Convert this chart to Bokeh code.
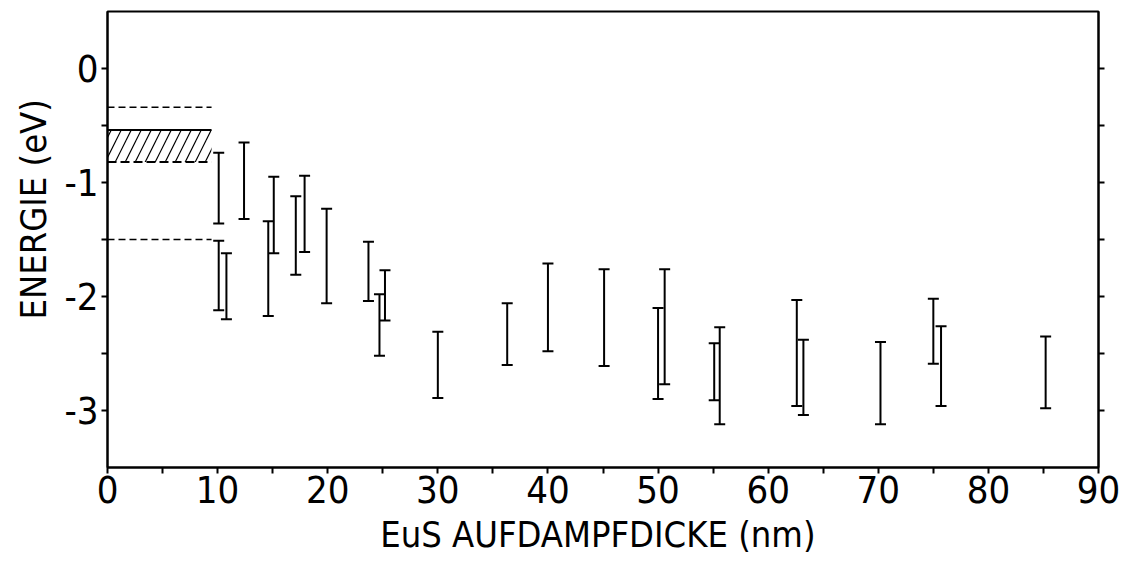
from bokeh.plotting import figure
from bokeh.models import (Whisker, TeeHead, ColumnDataSource, FixedTicker,
                          LinearAxis, Range1d, Title)
from bokeh.embed import file_html
from bokeh.resources import INLINE

# ---- data ----
thickness = [10.1, 10.1, 10.8, 12.4, 14.6, 15.1, 17.1, 17.9, 19.9, 23.7,
             24.7, 25.2, 30.0, 36.3, 40.0, 45.1, 50.0, 50.6, 55.1, 55.6,
             62.6, 63.2, 70.2, 75.0, 75.7, 85.2]
energy_upper = [-0.74, -1.51, -1.62, -0.65, -1.34, -0.95, -1.12, -0.94, -1.23, -1.52,
                -1.98, -1.77, -2.31, -2.06, -1.71, -1.76, -2.10, -1.76, -2.41, -2.27,
                -2.03, -2.38, -2.40, -2.02, -2.26, -2.35]
energy_lower = [-1.36, -2.12, -2.20, -1.32, -2.17, -1.62, -1.81, -1.61, -2.06, -2.04,
                -2.52, -2.21, -2.89, -2.60, -2.48, -2.61, -2.90, -2.77, -2.91, -3.12,
                -2.96, -3.04, -3.12, -2.59, -2.96, -2.98]

band_x = [0.0, 9.45]          # extent of the bulk reference band
band_top = -0.54              # hatched band upper edge
band_bottom = -0.82           # hatched band lower edge
dashed_levels = [-0.34, -1.50]

x_ticks = [0, 10, 20, 30, 40, 50, 60, 70, 80, 90]
x_minor = [5, 15, 25, 35, 45, 55, 65, 75, 85]
y_ticks = [0, -1, -2, -3]
y_tick_labels = ["0", "-1", "-2", "-3"]
y_minor = [-0.5, -1.5, -2.5]
y_right_ticks = [0, -0.5, -1, -1.5, -2, -2.5, -3]

x_title = "EuS  AUFDAMPFDICKE (nm)"
y_title = "ENERGIE (eV)"

FONT = "DejaVu Sans Condensed, Liberation Sans, sans-serif"

p = figure(width=1132, height=568, output_backend="svg", toolbar_location=None,
           x_range=Range1d(0, 90), y_range=Range1d(-3.5, 0.5),
           min_border_left=107, min_border_right=34, min_border_top=11,
           min_border_bottom=101)
p.background_fill_color = "white"
p.border_fill_color = "white"
p.grid.visible = False
p.outline_line_color = "black"
p.outline_line_width = 2
p.outline_line_alpha = 1

# axes styling
for ax in (p.xaxis[0], p.yaxis[0]):
    ax.axis_line_width = 2
    ax.major_tick_line_width = 2
    ax.minor_tick_line_width = 2
    ax.major_tick_in = 0
    ax.minor_tick_in = 0
    ax.major_tick_out = 6
    ax.minor_tick_out = 6
    ax.major_label_text_font = FONT
    ax.major_label_text_font_size = "38px"
    ax.major_label_text_color = "black"
    ax.axis_label_text_font = FONT
    ax.axis_label_text_font_size = "36px"
    ax.axis_label_text_font_style = "normal"
    ax.axis_label_text_color = "black"

p.xaxis.ticker = FixedTicker(ticks=x_ticks, minor_ticks=x_minor)
p.yaxis.ticker = FixedTicker(ticks=y_ticks, minor_ticks=y_minor)
p.yaxis.major_label_overrides = dict(zip(y_ticks, y_tick_labels))
p.xaxis.major_label_standoff = 2
p.xaxis.axis_label_standoff = 8
p.yaxis.major_label_standoff = 3
p.xaxis.axis_label = x_title

# y title: placed a little above the frame centre, as in the original
ytitle = Title(text=y_title, align="left", offset=148, standoff=15,
               text_font=FONT, text_font_size="36px",
               text_font_style="normal", text_color="black")
p.add_layout(ytitle, "left")

right = LinearAxis(ticker=FixedTicker(ticks=y_right_ticks),
                   major_label_overrides={t: "" for t in y_right_ticks},
                   axis_line_width=2, major_tick_line_width=2,
                   major_tick_in=0, major_tick_out=6, minor_tick_out=0,
                   minor_tick_in=0, major_label_standoff=0)
p.add_layout(right, "right")

# hatched band and dashed reference levels
p.quad(left=[band_x[0]], right=[band_x[1]], top=[band_top], bottom=[band_bottom],
       fill_alpha=0, line_color=None, hatch_pattern="/", hatch_color="black",
       hatch_weight=1.2, hatch_scale=20)
p.line(x=band_x, y=[band_top, band_top], line_color="black", line_width=2)
p.line(x=band_x, y=[band_bottom, band_bottom], line_color="black", line_width=2,
       line_dash="9 4")
for lvl in dashed_levels:
    p.line(x=band_x, y=[lvl, lvl], line_color="black", line_width=1.3,
           line_dash="7 4")

# error bars
src = ColumnDataSource(dict(x=thickness, upper=energy_upper, lower=energy_lower))
wh = Whisker(source=src, base="x", upper="upper", lower="lower",
             line_color="black", line_width=2,
             upper_head=TeeHead(size=11, line_width=2, line_color="black"),
             lower_head=TeeHead(size=11, line_width=2, line_color="black"))
p.add_layout(wh)

open("out.html", "w").write(file_html(p, INLINE))
